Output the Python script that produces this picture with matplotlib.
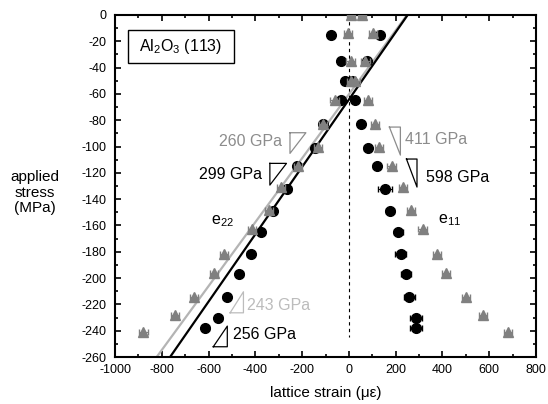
import matplotlib
matplotlib.use("Agg")
import matplotlib.pyplot as plt
from matplotlib.patches import Rectangle
from matplotlib.ticker import MultipleLocator
import numpy as np

plt.rcParams['font.family'] = ['Liberation Sans', 'DejaVu Sans']
plt.rcParams['mathtext.fontset'] = 'custom'
plt.rcParams['mathtext.rm'] = 'Liberation Sans'
plt.rcParams['mathtext.it'] = 'Liberation Sans'
plt.rcParams['axes.unicode_minus'] = False

# circles (black): applied stress and lattice strain
stress_circ = [-15, -35, -50, -65, -83, -101, -115, -132, -149, -165, -182, -197, -214, -230, -238]
e22_circ = [-78, -36, -16, -35, -112, -145, -222, -264, -326, -377, -420, -469, -523, -558, -614]
e11_circ = [131, 78, 15, 24, 50, 80, 118, 154, 175, 211, 222, 244, 258, 286, 286]
err22_circ = [10, 10, 10, 10, 12, 12, 12, 15, 15, 15, 15, 15, 15, 15, 15]
err11_circ = [10, 10, 10, 10, 12, 14, 15, 30, 18, 20, 24, 20, 24, 27, 27]

# triangles (grey)
stress_tri = [0, -14, -35, -50, -65, -83, -100, -115, -131, -148, -163, -182, -196, -214, -228, -241]
e22_tri = [10, -4, 7, 8, -61, -110, -132, -217, -290, -342, -414, -534, -577, -662, -744, -879]
e11_tri = [55, 103, 70, 28, 81, 111, 128, 182, 232, 265, 315, 377, 415, 500, 574, 681]
err_tri = [18] * 16

# linear fits: modulus (MPa per microstrain) and zero-stress strain
fit_black = (0.256, 251)
fit_grey = (0.243, 248)

fig = plt.figure(figsize=(5.48, 4.04), dpi=100)
ax = fig.add_axes([0.2099, 0.1163, 0.7683, 0.8466])

xl = np.array([-1000, 800])
ax.plot(xl, fit_grey[0] * (xl - fit_grey[1]), color='#b4b4b4', lw=1.6, zorder=2)
ax.plot(xl, fit_black[0] * (xl - fit_black[1]), color='black', lw=1.6, zorder=2)
ax.plot([0, 0], [0, -245], color='black', lw=0.8, ls=(0, (3, 3)), zorder=1)

ax.errorbar(e22_circ, stress_circ, xerr=err22_circ, fmt='o', color='black',
            ms=7, elinewidth=0.8, capsize=2, zorder=3)
ax.errorbar(e11_circ, stress_circ, xerr=err11_circ, fmt='o', color='black',
            ms=7, elinewidth=0.8, capsize=2, zorder=3)
ax.errorbar(e22_tri, stress_tri, xerr=err_tri, fmt='^', color='#808080',
            ms=7, elinewidth=0.8, capsize=2, zorder=4)
ax.errorbar(e11_tri, stress_tri, xerr=err_tri, fmt='^', color='#808080',
            ms=7, elinewidth=0.8, capsize=2, zorder=4)

# slope triangles
def slope_tri(x0, y0, w, h, kind, color):
    if kind == 'ul':
        xs = [x0, x0 + w, x0, x0]
        ys = [y0, y0, y0 - h, y0]
    elif kind == 'ur':
        xs = [x0, x0 + w, x0 + w, x0]
        ys = [y0, y0, y0 - h, y0]
    else:
        xs = [x0, x0 + w, x0 + w, x0]
        ys = [y0, y0, y0 + h, y0]
    ax.plot(xs, ys, color=color, lw=0.9, zorder=5)

slope_tri(-252, -89.5, 68, 15.7, 'ul', '#8c8c8c')
slope_tri(-338, -112.8, 71, 16.5, 'ul', 'black')
slope_tri(-508, -226.4, 57, 16, 'lr', '#bcbcbc')
slope_tri(-580, -252.2, 60, 15.7, 'lr', 'black')
slope_tri(173, -85.2, 47, 21.3, 'ur', '#8c8c8c')
slope_tri(246, -109.5, 45, 21.3, 'ur', 'black')

fs = 11.5
ax.text(-286, -96.3, '260 GPa', color='#8c8c8c', fontsize=fs, ha='right', va='center')
ax.text(-372, -121, '299 GPa', color='black', fontsize=fs, ha='right', va='center')
ax.text(-437, -220.5, '243 GPa', color='#bcbcbc', fontsize=fs, ha='left', va='center')
ax.text(-497, -243, '256 GPa', color='black', fontsize=fs, ha='left', va='center')
ax.text(239, -94.5, '411 GPa', color='#8c8c8c', fontsize=fs, ha='left', va='center')
ax.text(329, -123.4, '598 GPa', color='black', fontsize=fs, ha='left', va='center')
ax.text(-590, -157, r'e$_{\mathrm{22}}$', fontsize=fs, ha='left', va='center')
ax.text(380, -156, r'e$_{\mathrm{11}}$', fontsize=fs, ha='left', va='center')

ax.add_patch(Rectangle((0.030, 0.859), 0.252, 0.0965, transform=ax.transAxes,
                       fill=False, lw=1.0, color='black', zorder=6))
ax.text(0.156, 0.907, r'Al$_{\mathrm{2}}$O$_{\mathrm{3}}$ (113)', transform=ax.transAxes,
        fontsize=fs, ha='center', va='center')

ax.set_xlim(-1000, 800)
ax.set_ylim(-260, 0)
ax.xaxis.set_major_locator(MultipleLocator(200))
ax.xaxis.set_minor_locator(MultipleLocator(100))
ax.yaxis.set_major_locator(MultipleLocator(20))
ax.yaxis.set_minor_locator(MultipleLocator(10))
ax.tick_params(which='both', direction='in', top=True, right=True, width=1.2, labelsize=9)
ax.tick_params(which='major', length=4)
ax.tick_params(which='minor', length=2.5)
ax.tick_params(axis='x', pad=5)
ax.tick_params(axis='y', pad=6)
for s in ax.spines.values():
    s.set_linewidth(1.5)

ax.set_xlabel('lattice strain (\u03bc\u03b5)', fontsize=11)
ax.xaxis.set_label_coords(0.5, -0.085)
ax.set_ylabel('applied\nstress\n(MPa)', fontsize=11, rotation=0, ha='center', va='center',
              linespacing=1.15)
ax.yaxis.set_label_coords(-0.19, 0.48)

fig.savefig('out.png', dpi=100)
